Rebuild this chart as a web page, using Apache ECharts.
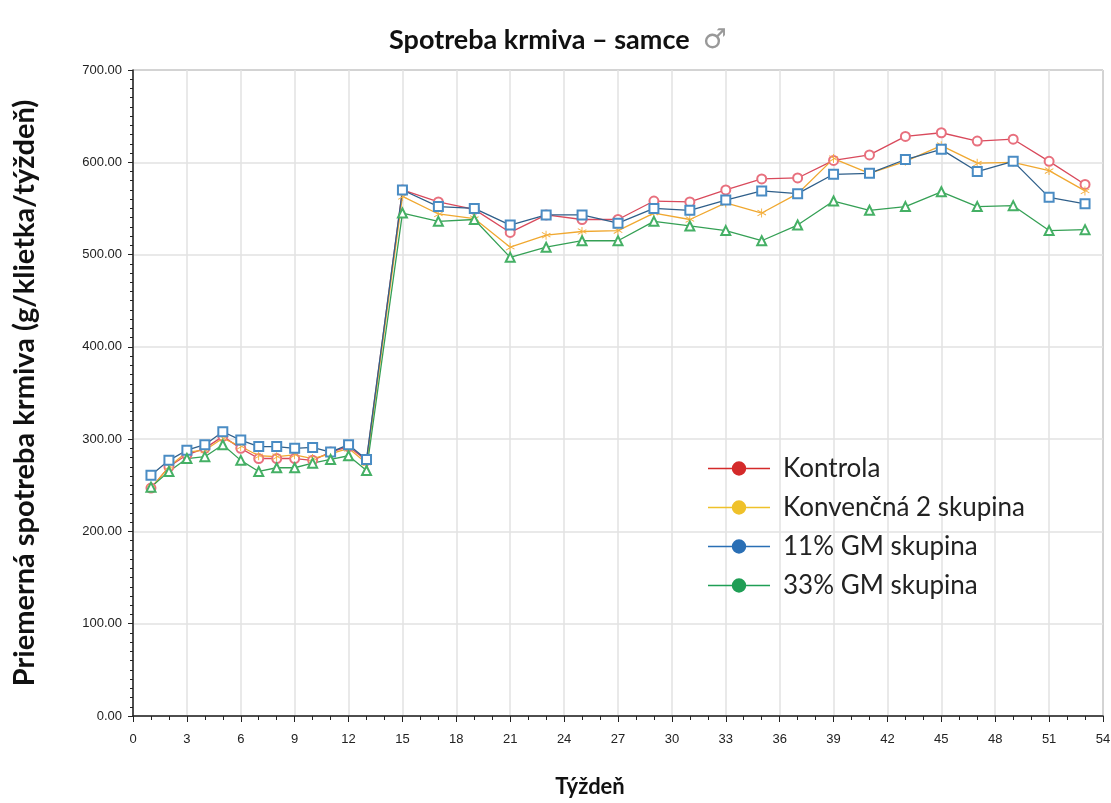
<!DOCTYPE html>
<html>
<head>
<meta charset="utf-8">
<script src="https://cdn.jsdelivr.net/npm/echarts@6/dist/echarts.min.js"></script>
<style>html,body{margin:0;padding:0;background:#fff}#c{width:1111px;height:803px}</style>
</head>
<body>
<div id="c"></div>
<script>
var weeks = [1,2,3,4,5,6,7,8,9,10,11,12,13,15,17,19,21,23,25,27,29,31,33,35,37,39,41,43,45,47,49,51,53];
var kontrola  = [247,270,283,290,303,290,279,279,279,277,286,292,277,570,557,549,524,543,538,538,558,557,570,582,583,602,608,628,632,623,625,601,576];
var konvencna = [247,270,286,288,301,292,282,281,283,279,284,290,274,563,544,539,508,521,525,526,545,538,556,545,566,604,588,601,618,599,600,591,569];
var gm11      = [261,277,288,294,308,299,292,292,290,291,286,294,278,570,552,550,532,543,543,534,550,548,559,569,566,587,588,603,614,590,601,562,555];
var gm33      = [248,265,279,281,294,277,265,269,269,274,278,282,266,545,536,538,497,508,515,515,536,531,526,515,532,558,548,552,568,552,553,526,527];
var seriesNames = ['Kontrola','Konvenčná 2 skupina','11% GM skupina','33% GM skupina'];
var titleText = 'Spotreba krmiva – samce';
var yName = 'Priemerná spotreba krmiva (g/klietka/týždeň)';
var xName = 'Týždeň';

function pairs(ys){ return weeks.map(function(w,i){ return [w, ys[i]]; }); }

var asterisk = 'path://M4.5,0h1v10h-1z M0.2,2.2l0.5,-0.87 9.3,5.4 -0.5,0.87z M0.2,7.8l9.3,-5.4 0.5,0.87 -9.3,5.4z';
var legendIcon = 'path://M0,6.2h60v1.6H0z M37,7a7,7 0 1,1 -14,0a7,7 0 1,1 14,0z';

var chart = echarts.init(document.getElementById('c'), null, {renderer:'canvas'});
chart.setOption({
  animation:false,
  backgroundColor:'#fff',
  title:{
    text: titleText + '  {m|♂}',
    left:384, top:22,
    textStyle:{fontFamily:'Lato', fontWeight:'bold', fontSize:27, color:'#111',
      rich:{m:{fontFamily:'DejaVu Sans', fontWeight:'normal', fontSize:27, color:'#999'}}}
  },
  grid:{left:133, right:8, top:70, bottom:87, show:true, borderColor:'#555', borderWidth:1, outerBoundsMode:'none', containLabel:false},
  legend:{
    orient:'vertical', left:703, top:450,
    itemWidth:62, itemHeight:16, itemGap:12,
    textStyle:{fontFamily:'Lato', fontSize:26, lineHeight:27, color:'#222', padding:[0,0,0,8]},
    data:[
      {name:seriesNames[0], icon:legendIcon, itemStyle:{color:'#d42a2a'}},
      {name:seriesNames[1], icon:legendIcon, itemStyle:{color:'#efc12a'}},
      {name:seriesNames[2], icon:legendIcon, itemStyle:{color:'#2a6fb5'}},
      {name:seriesNames[3], icon:legendIcon, itemStyle:{color:'#1f9e55'}}
    ]
  },
  xAxis:{
    type:'value', min:0, max:54, interval:3,
    name:xName, nameLocation:'middle', nameGap:60,
    nameTextStyle:{fontFamily:'Lato', fontWeight:'bold', fontSize:22, color:'#111', padding:[0,56,0,0]},
    axisLine:{show:true, lineStyle:{color:'#222', width:1.5}},
    axisTick:{show:true, length:6, lineStyle:{color:'#222'}},
    minorTick:{show:true, splitNumber:3, length:4, lineStyle:{color:'#222'}},
    axisLabel:{fontFamily:'Liberation Sans', fontSize:13, color:'#222', margin:17},
    splitLine:{show:true, lineStyle:{color:'#e2e2e2', width:1.5}}
  },
  yAxis:{
    type:'value', min:0, max:700, interval:100,
    name:yName, nameLocation:'middle', nameGap:94, nameRotate:90,
    nameTextStyle:{fontFamily:'Lato', fontWeight:'bold', fontSize:29, color:'#111'},
    axisLine:{show:true, lineStyle:{color:'#222', width:1.5}},
    axisTick:{show:true, length:5, lineStyle:{color:'#222'}},
    minorTick:{show:true, splitNumber:10, length:3, lineStyle:{color:'#222'}},
    axisLabel:{fontFamily:'Liberation Sans', fontSize:13, color:'#222', margin:11,
      formatter:function(v){return v.toFixed(2);}},
    splitLine:{show:true, lineStyle:{color:'#e2e2e2', width:1.5}}
  },
  series:[
    {name:seriesNames[0], type:'line', data:pairs(kontrola), symbol:'emptyCircle', symbolSize:9,
      lineStyle:{color:'#d94a5c', width:1.3}, itemStyle:{color:'#e8707e', borderWidth:1.2}},
    {name:seriesNames[1], type:'line', data:pairs(konvencna), symbol:asterisk, symbolSize:9,
      lineStyle:{color:'#f0a830', width:1.3}, itemStyle:{color:'#f4b040'}},
    {name:seriesNames[2], type:'line', data:pairs(gm11), symbol:'emptyRect', symbolSize:9,
      lineStyle:{color:'#2f5f8a', width:1.3}, itemStyle:{color:'#4a8cc4', borderWidth:1.2}},
    {name:seriesNames[3], type:'line', data:pairs(gm33), symbol:'emptyTriangle', symbolSize:9,
      lineStyle:{color:'#35a055', width:1.3}, itemStyle:{color:'#45b065', borderWidth:1.2}}
  ]
});
</script>
</body>
</html>
